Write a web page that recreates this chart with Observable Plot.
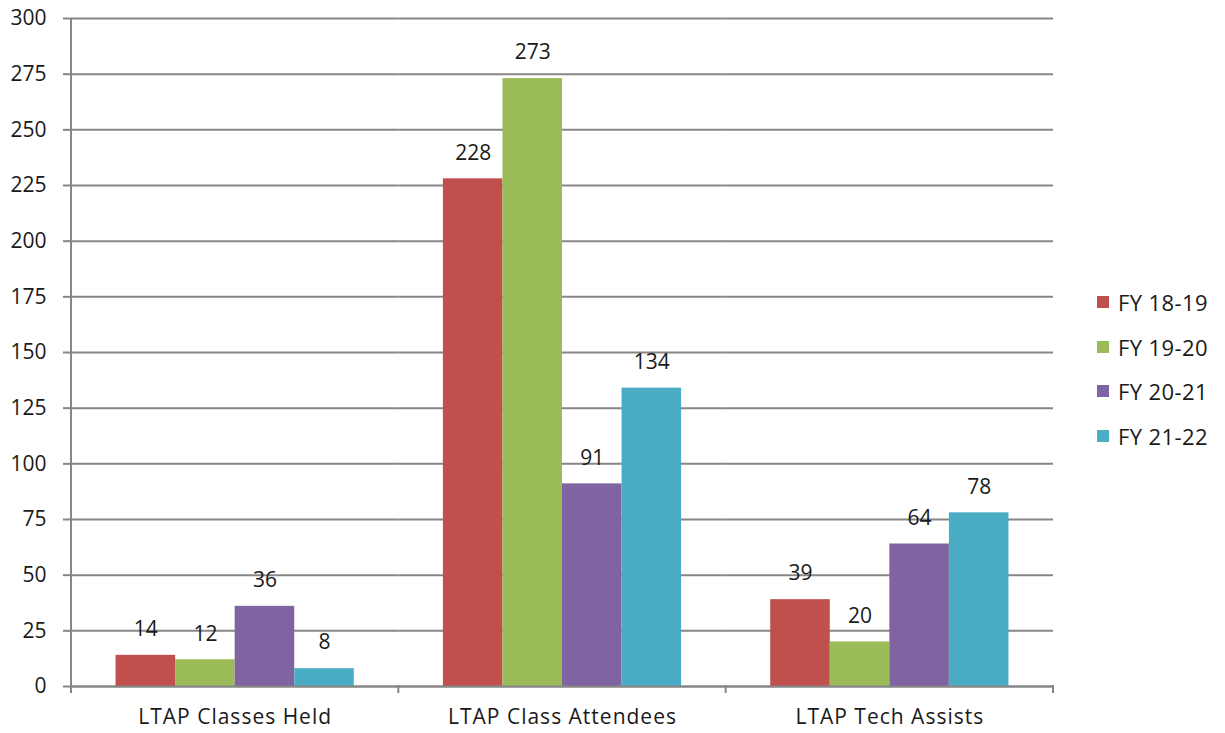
<!DOCTYPE html>
<html><head><meta charset="utf-8">
<script src="https://cdn.jsdelivr.net/npm/d3@7"></script>
<script src="https://cdn.jsdelivr.net/npm/@observablehq/plot@0.6"></script>
<style>
body{margin:0;background:#fff;font-family:"Open Sans",Lato,sans-serif;}
#wrap{position:relative;width:1225px;height:733px;overflow:hidden;}
#legend{position:absolute;left:1097px;top:280px;font-size:22px;color:#1a1a1a;letter-spacing:0.4px;}
#legend .row{display:flex;align-items:center;height:44.6px;}
#legend .sw{width:12px;height:12px;margin-right:9px;}
</style></head><body><div id="wrap"><div id="legend"></div></div>
<script>
const categories = ["LTAP Classes Held", "LTAP Class Attendees", "LTAP Tech Assists"];
const series = ["FY 18-19", "FY 19-20", "FY 20-21", "FY 21-22"];
const fy1819 = [14, 228, 39];
const fy1920 = [12, 273, 20];
const fy2021 = [36, 91, 64];
const fy2122 = [8, 134, 78];
const colors = ["#C0504D", "#9BBB59", "#8064A2", "#4BACC6"];
const yTicks = [0, 25, 50, 75, 100, 125, 150, 175, 200, 225, 250, 275, 300];

const seriesValues = [fy1819, fy1920, fy2021, fy2122];
const data = categories.flatMap((c, i) => series.map((s, j) => ({category: c, series: s, value: seriesValues[j][i]})));

const gridColor = "#868686";
const textColor = "#1a1a1a";

const chart = Plot.plot({
  width: 1225, height: 733,
  marginLeft: 71, marginRight: 172, marginTop: 18, marginBottom: 47,
  style: {fontFamily: "'Open Sans', Lato, sans-serif", fontSize: "21px", color: textColor, background: "white"},
  fx: {domain: categories, padding: 0, label: null, round: false},
  x: {domain: series, paddingInner: 0, paddingOuter: 0.748, axis: null, round: false},
  y: {domain: [0, 300], label: null, axis: null},
  color: {domain: series, range: colors},
  marks: [
    Plot.gridY(yTicks, {stroke: gridColor, strokeOpacity: 1, strokeWidth: 2}),
    Plot.axisY(yTicks, {tickSize: 8, tickPadding: 17, stroke: gridColor, strokeWidth: 2, fill: textColor, fontSize: 21, label: null}),
    Plot.axisFx({anchor: "bottom", tickSize: 0, tickPadding: 23, label: null, fontSize: 21, fill: textColor}),
    Plot.barY(data, {fx: "category", x: "series", y: "value", fill: "series"}),
    Plot.ruleY([0], {stroke: gridColor, strokeWidth: 2}),
    Plot.text(data, {fx: "category", x: "series", y: "value", text: d => String(d.value), dy: -26, fontSize: 21, fill: textColor})
  ]
});

// axis line and category separators drawn from the chart's own scales
const fx = chart.scale("fx");
const ys = chart.scale("y");
const y0 = ys.apply(0), yTop = ys.apply(300);
const bw = fx.bandwidth;
const edges = categories.map(c => fx.apply(c)).concat([fx.apply(categories[categories.length - 1]) + bw]);
const svg = d3.select(chart.tagName === "svg" ? chart : chart.querySelector("svg"));
const g = svg.append("g").attr("stroke", gridColor).attr("stroke-width", 2);
g.append("line").attr("x1", edges[0]).attr("x2", edges[0]).attr("y1", yTop).attr("y2", y0);
edges.forEach(x => g.append("line").attr("x1", x).attr("x2", x).attr("y1", y0 - 1).attr("y2", y0 + 7));
svg.selectAll('g[aria-label="fx-axis tick label"] text').style("letter-spacing", "1px");

document.getElementById("wrap").prepend(chart);
const legend = d3.select("#legend");
series.forEach((s, i) => {
  const row = legend.append("div").attr("class", "row");
  row.append("div").attr("class", "sw").style("background", colors[i]);
  row.append("span").text(s);
});
</script>
</body></html>
